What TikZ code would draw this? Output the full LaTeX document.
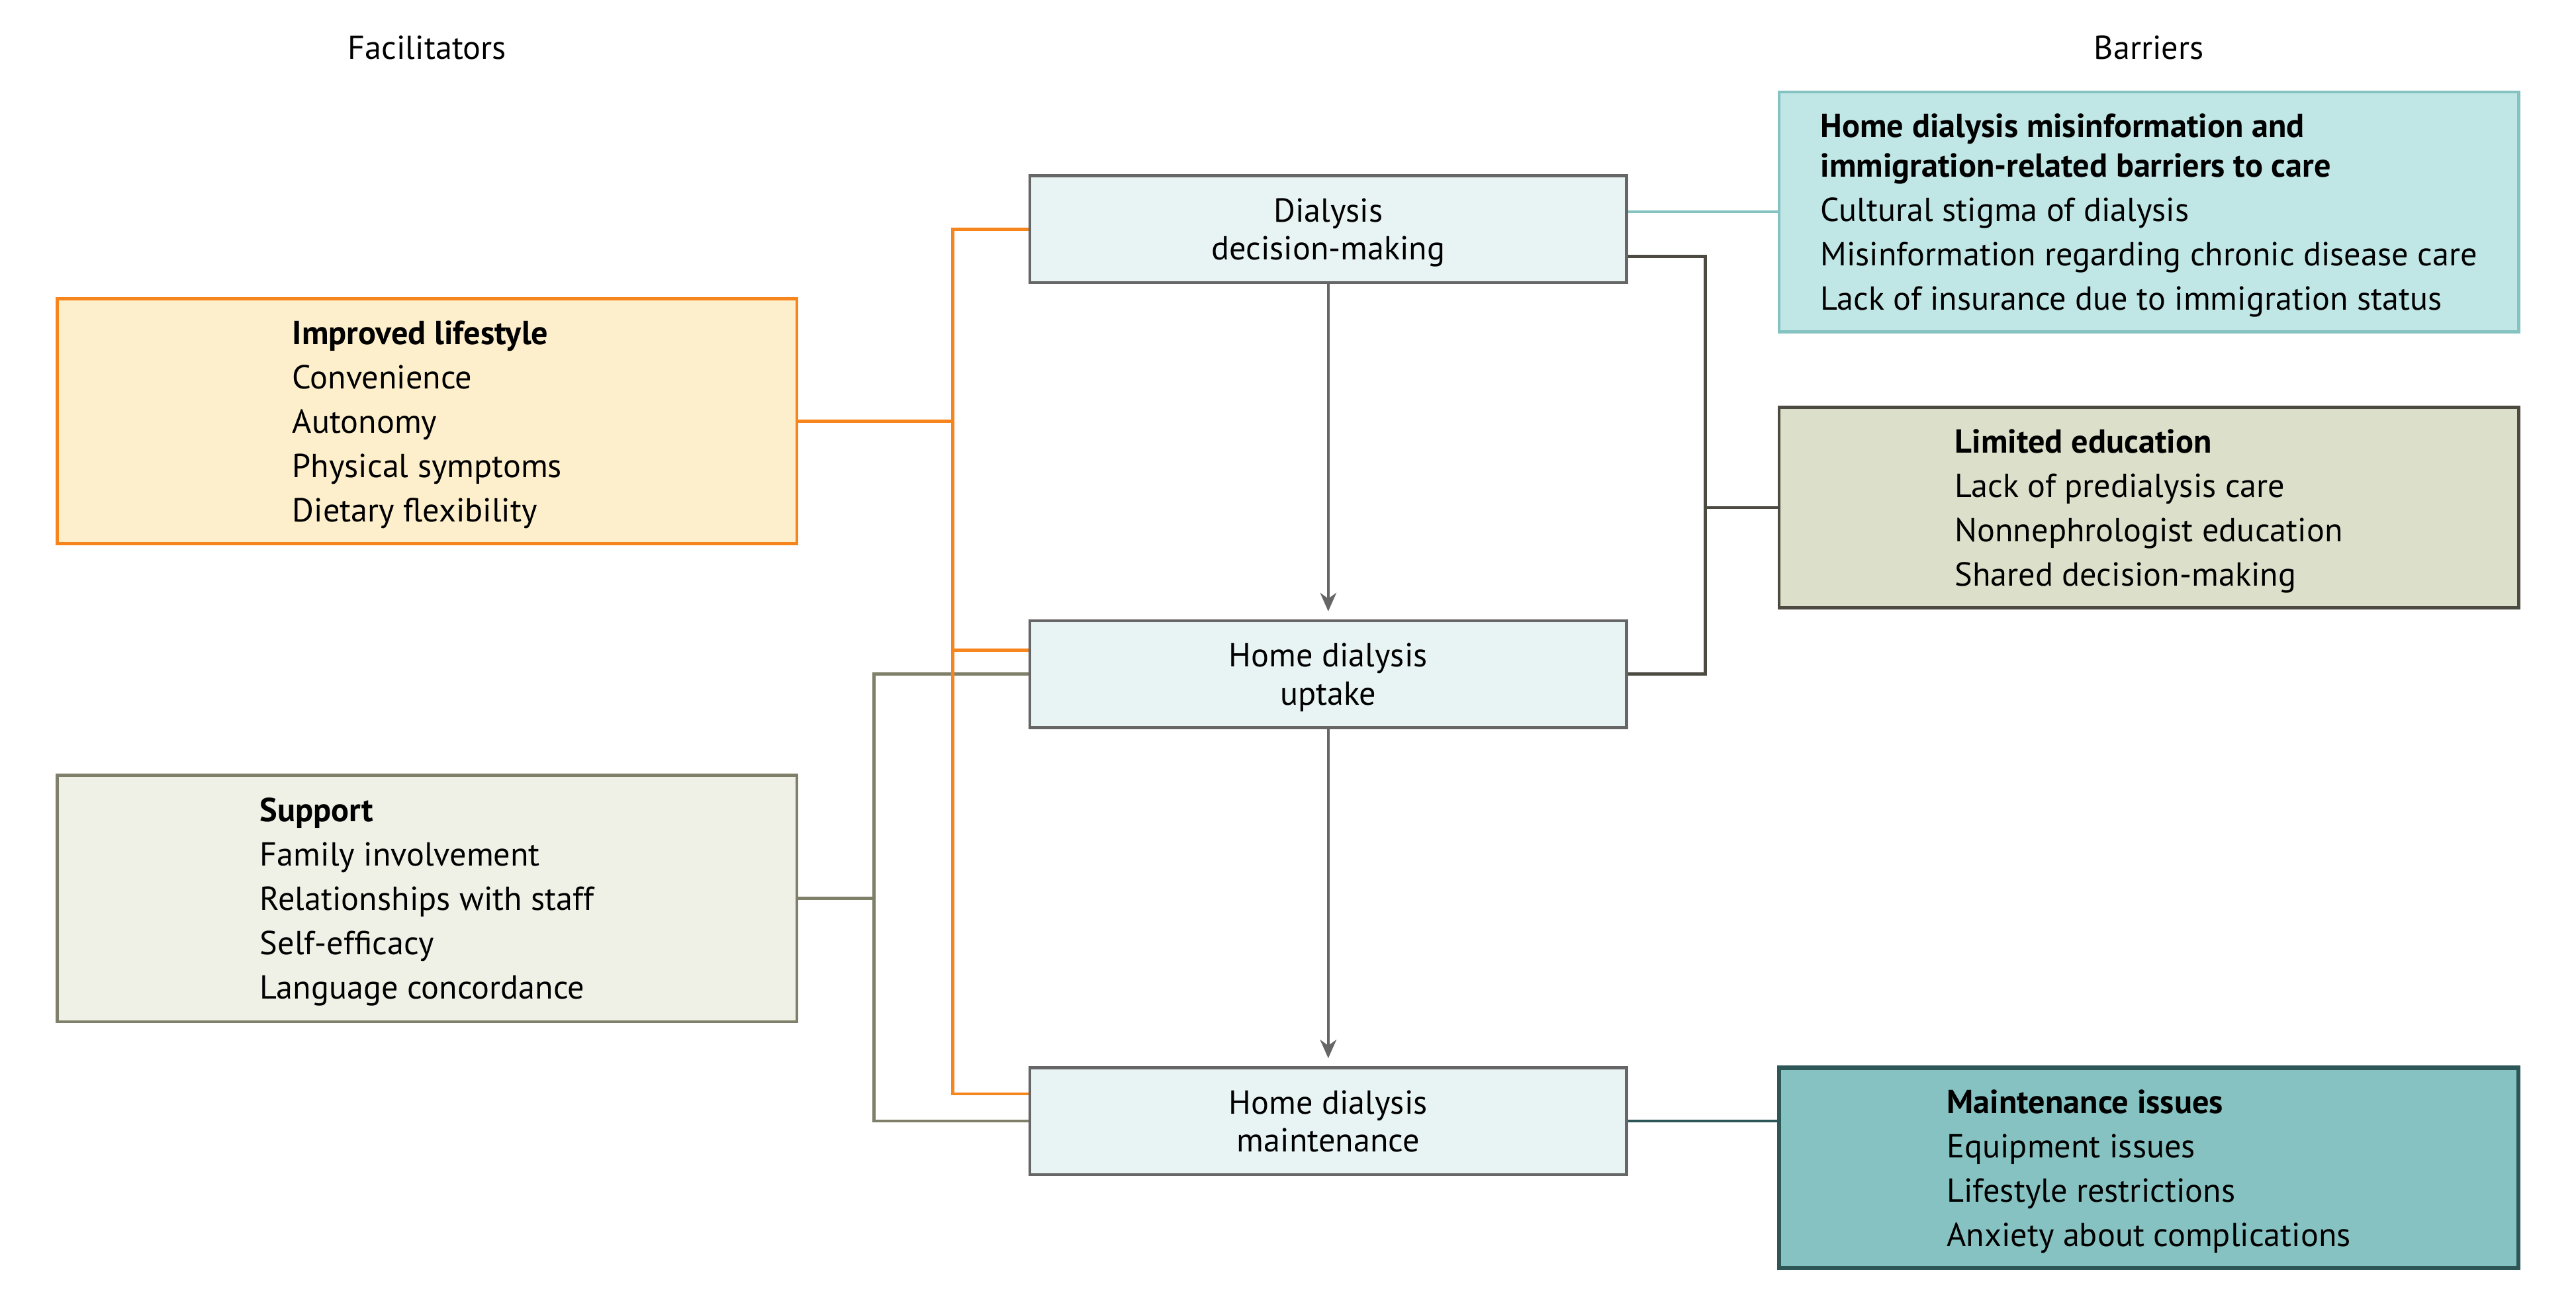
\documentclass[tikz,border=0pt]{standalone}
\usepackage{fontspec}
\setmainfont{PT Sans}
\usepackage{xcolor}
\usepackage{tikz}
\usetikzlibrary{arrows.meta,positioning,calc}
\definecolor{stagefill}{RGB}{232,243,244}
\definecolor{stagegray}{RGB}{102,102,102}
\definecolor{lifeorange}{RGB}{247,133,30}
\definecolor{lifefill}{RGB}{253,239,203}
\definecolor{supfill}{RGB}{240,241,230}
\definecolor{supolive}{RGB}{127,127,106}
\definecolor{misfill}{RGB}{192,230,229}
\definecolor{misteal}{RGB}{132,195,193}
\definecolor{edufill}{RGB}{220,223,201}
\definecolor{edudark}{RGB}{77,74,66}
\definecolor{mntfill}{RGB}{134,194,193}
\definecolor{mntdark}{RGB}{45,86,87}

\begin{document}
\begin{tikzpicture}[
  x=0.025cm, y=-0.025cm,
  stage/.style={draw=stagegray, fill=stagefill, line width=1.3pt, minimum width=9.075cm, minimum height=1.625cm, align=center, text depth=-2pt, font=\fontsize{14.4}{16.4}\selectfont},
  group/.style={line width=1.3pt, minimum width=11.25cm, align=left, text depth=0pt, font=\fontsize{14.4}{19.2}\selectfont},
  head/.style={font=\fontsize{14.4}{16.4}\selectfont},
  link/.style={line width=1.3pt},
  arr/.style={-{Stealth[length=8pt,width=7pt,inset=2.5pt]}, line width=1.3pt, draw=stagegray, shorten >=0.12cm}
]
  \useasboundingbox (0,0) rectangle (1568,792);

  \node[head] (fac) at (260,29) {Facilitators};
  \node[head] (bar) at (1308,29) {Barriers};

  % stages
  \node[stage] (dec) at (808.5,139.5) {Dialysis\\decision-making};
  \node[stage, below=5.1cm of dec] (upt) {Home dialysis\\uptake};
  \node[stage, below=5.13cm of upt] (mai) {Home dialysis\\maintenance};

  % facilitators
  \node[group, draw=lifeorange, fill=lifefill, minimum height=3.725cm] (life) at (260,256.5)
    {\textbf{Improved lifestyle}\\Convenience\\Autonomy\\Physical symptoms\\Dietary flexibility};
  \node[group, draw=supolive, fill=supfill, minimum height=3.75cm] (sup) at (260,547)
    {\textbf{Support}\\Family involvement\\Relationships with staff\\Self-efficacy\\Language concordance};

  % barriers
  \node[group, draw=misteal, fill=misfill, minimum height=3.65cm] (mis) at (1308,129)
    {\textbf{Home dialysis misinformation and}\\[-2.1pt]\textbf{immigration-related barriers to care}\\Cultural stigma of dialysis\\Misinformation regarding chronic disease care\\Lack of insurance due to immigration status};
  \node[group, draw=edudark, fill=edufill, minimum height=3.05cm] (edu) at (1308,309)
    {\textbf{Limited education}\\Lack of predialysis care\\Nonnephrologist education\\Shared decision-making};
  \node[group, draw=mntdark, fill=mntfill, minimum height=3.05cm, line width=1.8pt] (mnt) at (1308,711)
    {\textbf{Maintenance issues}\\Equipment issues\\Lifestyle restrictions\\Anxiety about complications};

  % arrows between stages
  \draw[arr] (dec) -- (upt);
  \draw[arr] (upt) -- (mai);

  % facilitator links
  \coordinate (sbus) at (532,547);
  \draw[link, supolive] (upt.west) -| (sbus) |- (mai.west);
  \draw[link, supolive] (sup.east) -- (sbus);
  \coordinate (obus) at (580,256.5);
  \draw[link, lifeorange] (dec.west) -| (obus) |- ($(mai.west)+(0,-16.5)$);
  \draw[link, lifeorange] (life.east) -- (obus);
  \draw[link, lifeorange] ($(upt.west)+(0,-14.5)$) coordinate (o2) -- (o2 -| obus);

  % barrier links
  \draw[link, misteal] (mis.west -| dec.east) -- (mis.west);
  \coordinate (gbus) at (1038,309);
  \draw[link, edudark] ($(dec.east)+(0,16.5)$) -| (gbus) |- (upt.east);
  \draw[link, edudark] (gbus) -- (edu.west);
  \draw[link, mntdark] (mai.east) -- (mai.east -| mnt.west);
\end{tikzpicture}
\end{document}
